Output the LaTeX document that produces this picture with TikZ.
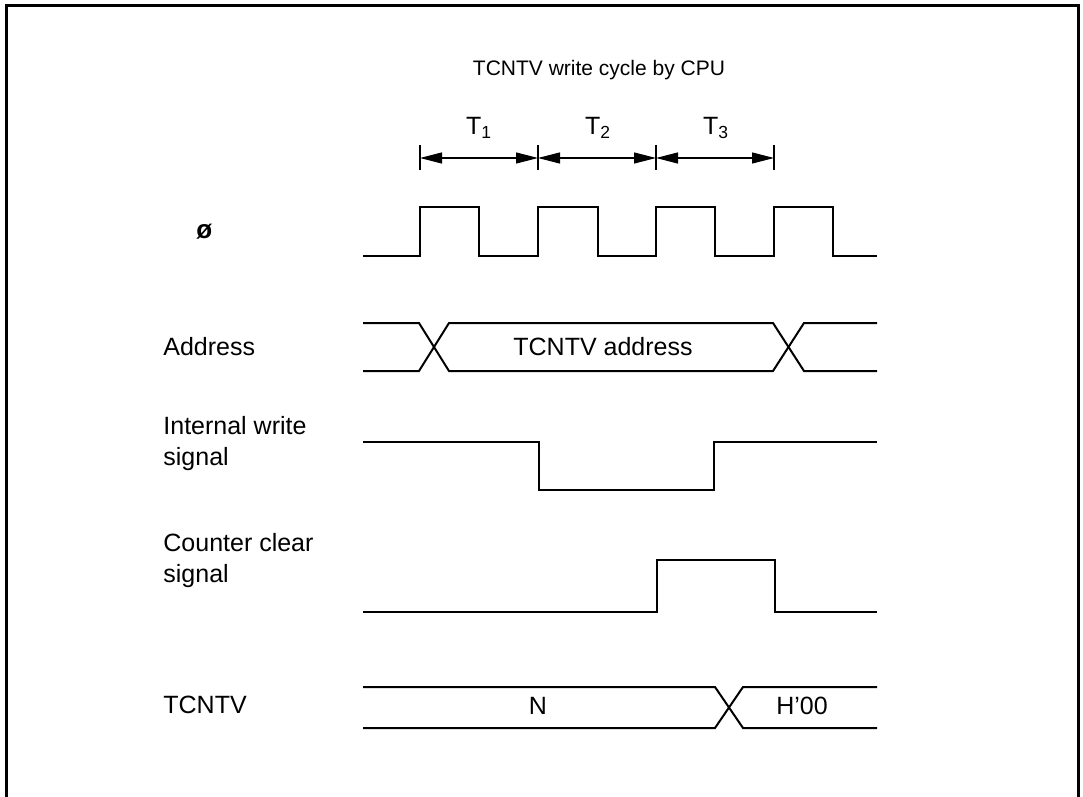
\documentclass[tikz,border=0pt]{standalone}
\usepackage{fontspec}
\setmainfont{Liberation Sans}
\usetikzlibrary{arrows.meta}

\begin{document}
\begin{tikzpicture}[x=0.5pt,y=-0.5pt, every node/.style={font=\fontsize{12.5}{15.5}\selectfont},
  lbl/.style={anchor=west,align=left,inner sep=0pt},
  wave/.style={line width=1pt,line join=miter},
  tick/.style={line width=0.7pt},
  dim/.style={{Triangle[length=11pt,width=5.5pt]}-{Triangle[length=11pt,width=5.5pt]},line width=0.6pt}]
\useasboundingbox (0,0) rectangle (1083,797);
\draw[line width=1.5pt] (6,797) -- (6,6) -- (1078,6) -- (1078,797);
\node[font=\fontsize{10.5}{12}\selectfont] (title) at (599,70) {TCNTV write cycle by CPU};
% state boundaries
\foreach \i/\x in {0/420,1/538,2/656,3/774} {
  \coordinate (t\i) at (\x,158);
  \draw[tick] (\x,145) -- (\x,170);
}
\draw[dim] (t0) -- (t1);
\draw[dim] (t1) -- (t2);
\draw[dim] (t2) -- (t3);
\node (T1) at (479,128) {T\textsubscript{1}};
\node (T2) at (598,128) {T\textsubscript{2}};
\node (T3) at (716,128) {T\textsubscript{3}};
% signal names
\node[lbl,font=\fontsize{13}{15}\bfseries] (phi) at (196,232) {ø};
\node[lbl] (addrlbl) at (163,347) {Address};
\node[lbl] (wrlbl) at (163,444) {Internal write\\signal};
\node[lbl] (clrlbl) at (163,561) {Counter clear\\signal};
\node[lbl] (cntlbl) at (163,705) {TCNTV};
% clock
\draw[wave] (363,256) -- (420,256) -- (420,207) -- (479,207) -- (479,256) -- (538,256)
  -- (538,207) -- (598,207) -- (598,256) -- (656,256) -- (656,207) -- (715,207)
  -- (715,256) -- (774,256) -- (774,207) -- (833,207) -- (833,256) -- (877,256);
% address bus
\draw[wave] (363,323) -- (419,323) -- (449,371) -- (773,371) -- (804,323) -- (877,323);
\draw[wave] (363,371) -- (419,371) -- (449,323) -- (773,323) -- (804,371) -- (877,371);
\node (addr) at (603,347) {TCNTV address};
% write strobe
\draw[wave] (363,442) -- (539,442) -- (539,490) -- (714,490) -- (714,442) -- (877,442);
% clear pulse
\draw[wave] (363,612) -- (657,612) -- (657,560) -- (775,560) -- (775,612) -- (877,612);
% counter value
\draw[wave] (363,687) -- (715,687) -- (743,728) -- (877,728);
\draw[wave] (363,728) -- (715,728) -- (743,687) -- (877,687);
\node (valN) at (538,706) {N};
\node (val00) at (802,706) {H'00};
\end{tikzpicture}
\end{document}
